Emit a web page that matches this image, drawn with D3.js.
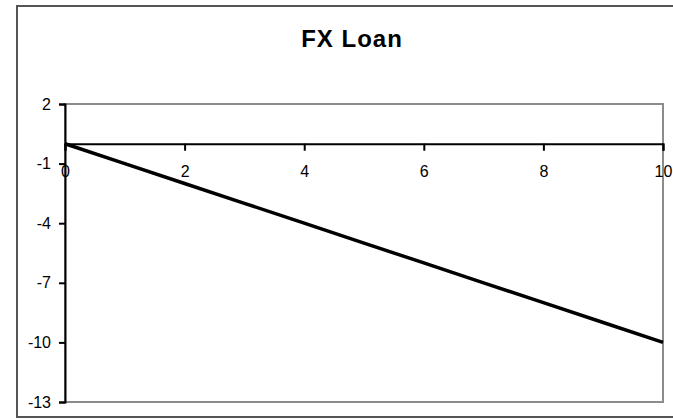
<!DOCTYPE html>
<html>
<head>
<meta charset="utf-8">
<script src="https://cdn.jsdelivr.net/npm/d3@7"></script>
<style>
html,body{margin:0;padding:0;background:#fff;}
svg{display:block;}
text{font-family:"Liberation Sans",Arial,sans-serif;}
</style>
</head>
<body>
<svg id="chart" width="673" height="420"></svg>
<script>
const title = "FX Loan";
const xValues = [0, 1, 2, 3, 4, 5, 6, 7, 8, 9, 10];
const yValues = [0, -1, -2, -3, -4, -5, -6, -7, -8, -9, -10];
const xTicks = [0, 2, 4, 6, 8, 10];
const yTicks = [2, -1, -4, -7, -10, -13];

const svg = d3.select("#chart");
const W = 673, H = 420;
const plot = {left: 65, right: 663, top: 104, bottom: 402};
const fmt = d => String(d);

// outer frame
svg.append("rect").attr("x", 17).attr("y", 6).attr("width", W + 10).attr("height", 411)
  .attr("fill", "#fff").attr("stroke", "#555").attr("stroke-width", 2);

const x = d3.scaleLinear().domain([0, 10]).range([plot.left, plot.right]);
const y = d3.scaleLinear().domain([-13, 2]).range([plot.bottom, plot.top]);

// plot border (grey)
svg.append("rect").attr("x", plot.left).attr("y", plot.top)
  .attr("width", plot.right - plot.left).attr("height", plot.bottom - plot.top)
  .attr("fill", "#fff").attr("stroke", "#8c8c8c").attr("stroke-width", 2);

// title
svg.append("text").attr("x", 352).attr("y", 47).attr("text-anchor", "middle")
  .attr("font-size", 24).attr("font-weight", "bold").attr("letter-spacing", 1)
  .attr("fill", "#000").text(title);

// y axis
const yAxis = svg.append("g").attr("transform", `translate(${plot.left},0)`)
  .call(d3.axisLeft(y).tickValues(yTicks).tickSize(6).tickPadding(8).tickFormat(fmt));
yAxis.select(".domain").attr("stroke", "#000").attr("stroke-width", 2);
yAxis.selectAll(".tick line").attr("stroke", "#000").attr("stroke-width", 2);
yAxis.selectAll(".tick text").attr("font-size", 16).attr("fill", "#000")
  .attr("font-family", "Liberation Sans, Arial, sans-serif");

// x axis at y = 0
const xAxis = svg.append("g").attr("transform", `translate(0,${y(0)})`)
  .call(d3.axisBottom(x).tickValues(xTicks).tickSize(7).tickPadding(15).tickFormat(fmt));
xAxis.select(".domain").attr("stroke", "#000").attr("stroke-width", 2);
xAxis.selectAll(".tick line").attr("stroke", "#000").attr("stroke-width", 2);
xAxis.selectAll(".tick text").attr("font-size", 16).attr("fill", "#000")
  .attr("font-family", "Liberation Sans, Arial, sans-serif");

// series line
const pts = xValues.map((v, i) => [v, yValues[i]]);
svg.append("path").datum(pts)
  .attr("fill", "none").attr("stroke", "#000").attr("stroke-width", 3.5)
  .attr("d", d3.line().x(d => x(d[0])).y(d => y(d[1])));
</script>
</body>
</html>
